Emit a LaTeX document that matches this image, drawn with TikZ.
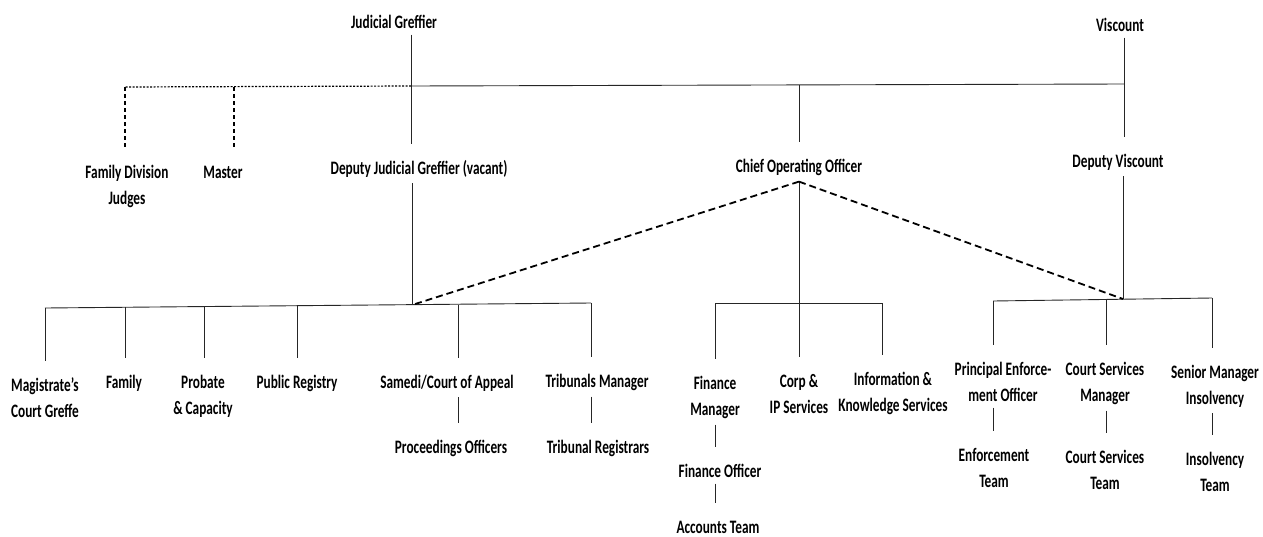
\documentclass[tikz,border=0pt]{standalone}
\usepackage{fontspec}
\setmainfont{Carlito}[FakeStretch=0.70]
\usepackage{tikz}
\usetikzlibrary{calc}
\newcommand{\topstrut}{\rule{0pt}{24pt}}

\begin{document}
\begin{tikzpicture}[
    x=1pt, y=-1pt,
    orgbox/.style={font=\fontsize{19}{26}\selectfont\bfseries, align=center,
                 inner xsep=2pt, inner ysep=6pt, anchor=north, yshift=30pt,
                 execute at begin node={\topstrut}},
    link/.style={line width=0.9pt, draw=black!85},
    dashlink/.style={line width=1.8pt, dash pattern=on 7pt off 4pt},
    shortdash/.style={line width=1.6pt, dash pattern=on 4pt off 3pt},
    dotlink/.style={line width=1.2pt, dash pattern=on 2pt off 1.5pt},
]
    \useasboundingbox (0,0) rectangle (1263,536);

    \node[orgbox] (jg) at (394,28) {Judicial Greffier};
    \node[orgbox] (vis) at (1120,31) {Viscount};
    \node[orgbox] (fdj) at (127,178) {\topstrut Family Division\\Judges};
    \node[orgbox] (mas) at (223,178) {Master};
    \node[orgbox] (djg) at (419,174) {Deputy Judicial Greffier (vacant)};
    \node[orgbox] (coo) at (799,172) {Chief Operating Officer};
    \node[orgbox] (dv) at (1118,167) {Deputy Viscount};

    \node[orgbox] (mag) at (45,391) {\topstrut Magistrate’s\\Court Greffe};
    \node[orgbox] (fam) at (124,388) {Family};
    \node[orgbox] (pro) at (203,388) {\topstrut Probate\\\& Capacity};
    \node[orgbox] (pub) at (297,388) {Public Registry};
    \node[orgbox] (sam) at (447,388) {Samedi/Court of Appeal};
    \node[orgbox] (tri) at (597,387) {Tribunals Manager};
    \node[orgbox] (proc) at (451,453) {Proceedings Officers};
    \node[orgbox] (reg) at (598,453) {Tribunal Registrars};

    \node[orgbox] (fm) at (715,389) {\topstrut Finance\\Manager};
    \node[orgbox] (corp) at (799,387) {\topstrut Corp \&\\IP Services};
    \node[orgbox] (info) at (893,385) {\topstrut Information \&\\Knowledge Services};
    \node[orgbox] (fo) at (720,477) {Finance Officer};
    \node[orgbox] (acc) at (718,533) {Accounts Team};

    \node[orgbox] (peo) at (1003,375) {\topstrut Principal Enforce-\\ment Officer};
    \node[orgbox] (csm) at (1105,375) {\topstrut Court Services\\Manager};
    \node[orgbox] (smi) at (1215,378) {\topstrut Senior Manager\\Insolvency};
    \node[orgbox] (et) at (994,461) {\topstrut Enforcement\\Team};
    \node[orgbox] (cst) at (1105,463) {\topstrut Court Services\\Team};
    \node[orgbox] (it) at (1215,465) {\topstrut Insolvency\\Team};

    \coordinate (jgj) at (411,86);
    \coordinate (visj) at (1124,84);
    \coordinate (cooj) at (799,85);
    \coordinate (fdjj) at (125,87);
    \coordinate (masj) at (234,87);

    \draw[link] (jg.south -| jgj) -- (djg.north -| jgj);
    \draw[link] (vis.south -| visj) -- (dv.north -| visj);
    \draw[link] (jgj) -- (visj);
    \draw[link] (cooj) -- (coo.north);
    \draw[dotlink] (jgj) -- (fdjj);
    \draw[shortdash] (fdjj) -- (fdjj |- fdj.north);
    \draw[shortdash] (masj) -- (masj |- mas.north);

    \coordinate (djgj) at (412,305);
    \coordinate (magj) at (45,308);
    \coordinate (famj) at (125,307);
    \coordinate (proj) at (204,306.5);
    \coordinate (pubj) at (297,306);
    \coordinate (samj) at (458,304.5);
    \coordinate (trij) at (591,303);

    \draw[link] (djg.south -| djgj) -- (djgj);
    \draw[link] (magj) -- (trij);
    \foreach \j/\n in {magj/mag, famj/fam, proj/pro, pubj/pub, samj/sam, trij/tri}
        \draw[link] (\j) -- (\j |- \n.north);
    \draw[link] (sam.south -| samj) -- (proc.north -| samj);
    \draw[link] (tri.south -| trij) -- (reg.north -| trij);

    \coordinate (finj) at (715,303);
    \coordinate (infj) at (882,303);

    \draw[link] (coo.south) -- (corp.north);
    \draw[link] (finj) -- (infj);
    \draw[link] (finj) -- (finj |- fm.north);
    \draw[link] (infj) -- (infj |- info.north);
    \draw[link] (fm.south -| finj) -- (fo.north -| finj);
    \draw[link] (fo.south -| finj) -- (acc.north -| finj);

    \coordinate (dvj) at (1123,299);
    \coordinate (peoj) at (993,301);
    \coordinate (csmj) at (1106,299.5);
    \coordinate (smij) at (1212,298);

    \draw[link] (dv.south -| dvj) -- (dvj);
    \draw[link] (peoj) -- (smij);
    \foreach \j/\n in {peoj/peo, csmj/csm, smij/smi}
        \draw[link] (\j) -- (\j |- \n.north);
    \draw[link] (peo.south -| peoj) -- (et.north -| peoj);
    \draw[link] (csm.south -| csmj) -- (cst.north -| csmj);
    \draw[link] (smi.south -| smij) -- (it.north -| smij);

    \draw[dashlink] (coo.south) -- (djgj);
    \draw[dashlink] (coo.south) -- (dvj);
\end{tikzpicture}
\end{document}
